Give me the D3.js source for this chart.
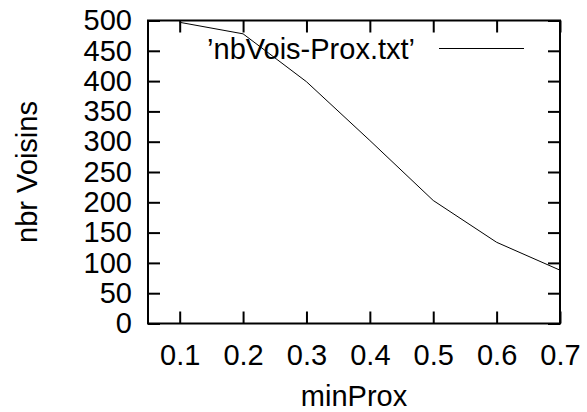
<!DOCTYPE html>
<meta charset="utf-8">
<script src="https://d3js.org/d3.v7.min.js"></script>
<style>
  body { margin: 0; background: #fff; }
  text { font-family: "Liberation Sans", Arial, sans-serif; }
</style>
<body>
<div id="chart"></div>
<script>

// data
var minProx = [0.1, 0.2, 0.3, 0.4, 0.5, 0.6, 0.7];
var nbrVoisins = [497, 478, 399, 302, 203, 134, 88];
var xTicks = [0.1, 0.2, 0.3, 0.4, 0.5, 0.6, 0.7];
var yTicks = [0, 50, 100, 150, 200, 250, 300, 350, 400, 450, 500];
var seriesName = "\u2019nbVois-Prox.txt\u2019";

var W = 587, H = 412;
// plot box (note: "top" is taken by window.top, so use other names)
var pLeft = 148, pRight = 560, pTop = 20.5, pBottom = 323.5;
var fs = 29;

var svg = d3.select("#chart").append("svg")
    .attr("width", W)
    .attr("height", H);

var x = d3.scaleLinear().domain([0.05, 0.7]).range([pLeft, pRight]);
var y = d3.scaleLinear().domain([0, 500]).range([pBottom, pTop]);

// ticks point inward on all four sides
function styleAxis(g) {
  g.select(".domain").remove();
  g.selectAll(".tick line").attr("stroke", "#000").attr("stroke-width", 2);
  g.selectAll(".tick text")
    .attr("fill", "#000")
    .style("font-size", fs + "px");
}

svg.append("g")
    .attr("transform", "translate(" + pLeft + ",0)")
    .call(d3.axisLeft(y).tickValues(yTicks).tickSize(-12).tickPadding(16).tickFormat(d3.format("d")))
    .call(styleAxis);

svg.append("g")
    .attr("transform", "translate(" + pRight + ",0)")
    .call(d3.axisRight(y).tickValues(yTicks).tickSize(-12).tickFormat(""))
    .call(styleAxis);

svg.append("g")
    .attr("transform", "translate(0," + pBottom + ")")
    .call(d3.axisBottom(x).tickValues(xTicks).tickSize(-12).tickPadding(21).tickFormat(d3.format(".1f")))
    .call(styleAxis);

svg.append("g")
    .attr("transform", "translate(0," + pTop + ")")
    .call(d3.axisTop(x).tickValues(xTicks).tickSize(-12).tickFormat(""))
    .call(styleAxis);

// the data line
svg.append("path")
    .datum(minProx.map(function(d, i) { return [d, nbrVoisins[i]]; }))
    .attr("fill", "none")
    .attr("stroke", "#000")
    .attr("stroke-width", 1)
    .attr("d", d3.line()
      .x(function(d) { return x(d[0]); })
      .y(function(d) { return y(d[1]); }));

// frame
svg.append("rect")
    .attr("x", pLeft)
    .attr("y", pTop)
    .attr("width", pRight - pLeft)
    .attr("height", pBottom - pTop)
    .attr("fill", "none")
    .attr("stroke", "#000")
    .attr("stroke-width", 2);

// legend
svg.append("text")
    .attr("x", 415)
    .attr("y", 59)
    .attr("text-anchor", "end")
    .style("font-size", fs + "px")
    .text(seriesName);

svg.append("line")
    .attr("x1", 439).attr("x2", 524)
    .attr("y1", 48.5).attr("y2", 48.5)
    .attr("stroke", "#000")
    .attr("stroke-width", 1);

// axis titles
svg.append("text")
    .attr("x", (pLeft + pRight) / 2)
    .attr("y", 406)
    .attr("text-anchor", "middle")
    .style("font-size", fs + "px")
    .text("minProx");

svg.append("text")
    .attr("transform", "translate(37," + (pTop + pBottom) / 2 + ") rotate(-90)")
    .attr("text-anchor", "middle")
    .style("font-size", fs + "px")
    .text("nbr Voisins");

</script>
</body>
